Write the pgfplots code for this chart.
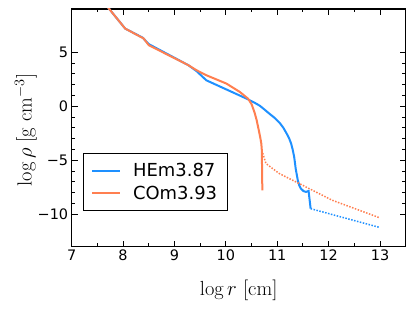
\documentclass[border=0pt]{standalone}
\usepackage{fontspec}
\setsansfont{DejaVu Sans}
\usepackage{pgfplots}
\pgfplotsset{compat=1.18}
\definecolor{hblue}{RGB}{30,144,255}
\definecolor{corange}{RGB}{255,127,80}
\begin{document}
\begin{tikzpicture}
\begin{axis}[
  scale only axis, width=334bp, height=237.7bp,
  xmin=7, xmax=13.5, ymin=-13, ymax=9,
  xtick={7,8,9,10,11,12,13}, xticklabels={7,8,9,10,11,12,13},
  minor x tick num=1,
  ytick={-10,-5,0,5}, yticklabels={−10,−5,0,5},
  minor y tick num=4,
  xtick pos=both, ytick pos=both,
  tick align=inside,
  major tick length=6bp, minor tick length=3.5bp,
  every tick/.style={black, line width=1bp},
  axis line style={line width=1.5bp},
  tick label style={font=\fontsize{14.5}{14.5}\sffamily},
  xlabel={$\log r\ [\mathrm{cm}]$},
  ylabel={$\log \rho\ [\mathrm{g\ cm^{-3}}]$},
  label style={font=\fontsize{20.5}{20.5}\selectfont},
  xlabel style={at={(axis description cs:0.5,-0.182)}, anchor=center},
  ylabel style={at={(axis description cs:-0.138,0.491)}, anchor=center},
  legend style={at={(0.033,0.393)}, anchor=north west, draw=black, line width=0.8bp,
    font=\fontsize{18}{18}\selectfont\sffamily, cells={anchor=west}, inner xsep=8bp, inner ysep=7.5bp,
    row sep=4bp},
  legend image code/.code={\draw[#1] (0bp,0bp) -- (28bp,0bp); \path (38bp,0bp);},
  clip=true,
]
\addplot[hblue, line width=2bp] coordinates {
(7.68,9.3) (8.04,7.19) (8.38,6.35) (8.50,5.75) (9.27,3.80) (9.43,3.25) (9.62,2.40)
(10.40,0.71) (10.55,0.35) (10.66,0.05) (10.75,-0.3) (10.85,-0.70) (10.95,-1.08)
(11.05,-1.55) (11.12,-2.0) (11.18,-2.5) (11.23,-2.95) (11.27,-3.45) (11.30,-4.0)
(11.33,-4.7) (11.36,-5.8)
(11.40,-6.85) (11.43,-7.35) (11.46,-7.62) (11.51,-7.85) (11.56,-7.93) (11.61,-7.84) (11.65,-9.48)
};
\addlegendentry{HEm3.87}
\addplot[corange, line width=2bp] coordinates {
(7.68,9.3) (8.04,7.19) (8.40,6.27) (8.50,5.65) (9.27,3.80) (9.43,3.33) (9.62,2.87)
(10.01,2.10) (10.27,1.33) (10.43,0.71) (10.50,0.2) (10.56,-0.6) (10.60,-1.3)
(10.64,-2.2) (10.67,-2.9) (10.69,-3.45) (10.70,-4.07) (10.71,-7.78)
};
\addlegendentry{COm3.93}
\addplot[hblue, line width=1.5bp, dash pattern=on 1.5bp off 1.5bp, forget plot] coordinates {
(11.65,-9.48) (12.36,-10.40) (12.98,-11.2)
};
\addplot[corange, line width=1.5bp, dash pattern=on 1.5bp off 1.5bp, forget plot] coordinates {
(10.70,-4.07) (10.78,-5.3) (11.04,-6.23) (11.43,-7.16) (12.07,-8.7) (12.98,-10.3)
};
\end{axis}
\path (-71.7bp,-64.3bp) rectangle (343.3bp,246.7bp);
\end{tikzpicture}
\end{document}
